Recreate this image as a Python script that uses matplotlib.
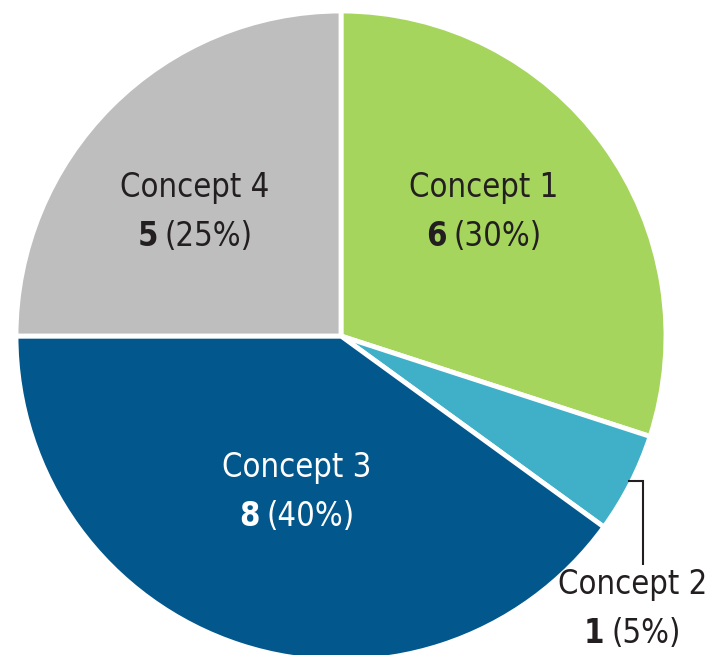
import matplotlib.pyplot as plt
from matplotlib.offsetbox import TextArea, HPacker, VPacker, AnnotationBbox

# data
labels = ['Concept 1', 'Concept 2', 'Concept 3', 'Concept 4']
counts = [6, 1, 8, 5]
shares = [30, 5, 40, 25]
colors = ['#a6d55e', '#40b0c8', '#02578c', '#bebebe']
text_colors = ['#231f20', '#231f20', '#ffffff', '#231f20']

# label anchors in pixel coords (y measured from bottom) and box alignment
label_pos = [(484, 443), (707, 46), (297, 163), (195, 443)]
label_align = [(0.5, 0.5), (1.0, 0.5), (0.5, 0.5), (0.5, 0.5)]

plt.rcParams['font.family'] = ['DejaVu Sans']
plt.rcParams['font.stretch'] = 'condensed'

fig = plt.figure(figsize=(7.1, 6.55), dpi=100)
ax = fig.add_axes([0, 0, 1, 1])

ax.pie(counts, colors=colors, startangle=90, counterclock=False,
       radius=325, center=(341, 319),
       wedgeprops=dict(edgecolor='white', linewidth=3.5))
ax.set_xlim(0, 710)
ax.set_ylim(0, 655)
ax.set_aspect('equal')
ax.axis('off')

fs = 23.5
for lab, n, pct, tc, (x, y), al in zip(labels, counts, shares, text_colors,
                                      label_pos, label_align):
    top = TextArea(lab, textprops=dict(size=fs, color=tc, stretch='condensed'))
    num = TextArea(str(n), textprops=dict(size=fs, color=tc, weight='bold',
                                          stretch='condensed'))
    par = TextArea('(%d%%)' % pct, textprops=dict(size=fs, color=tc,
                                                  stretch='condensed'))
    row = HPacker(children=[num, par], pad=0, sep=5, align='baseline')
    box = VPacker(children=[top, row], pad=0, sep=12, align='center')
    ab = AnnotationBbox(box, (x, y), xycoords='data', frameon=False,
                        box_alignment=al)
    ax.add_artist(ab)

# leader line for the small slice
ax.plot([628, 643, 643], [174, 174, 90], color='#231f20', lw=1.5,
        solid_capstyle='butt', solid_joinstyle='miter')

fig.savefig('out.png', dpi=100)
